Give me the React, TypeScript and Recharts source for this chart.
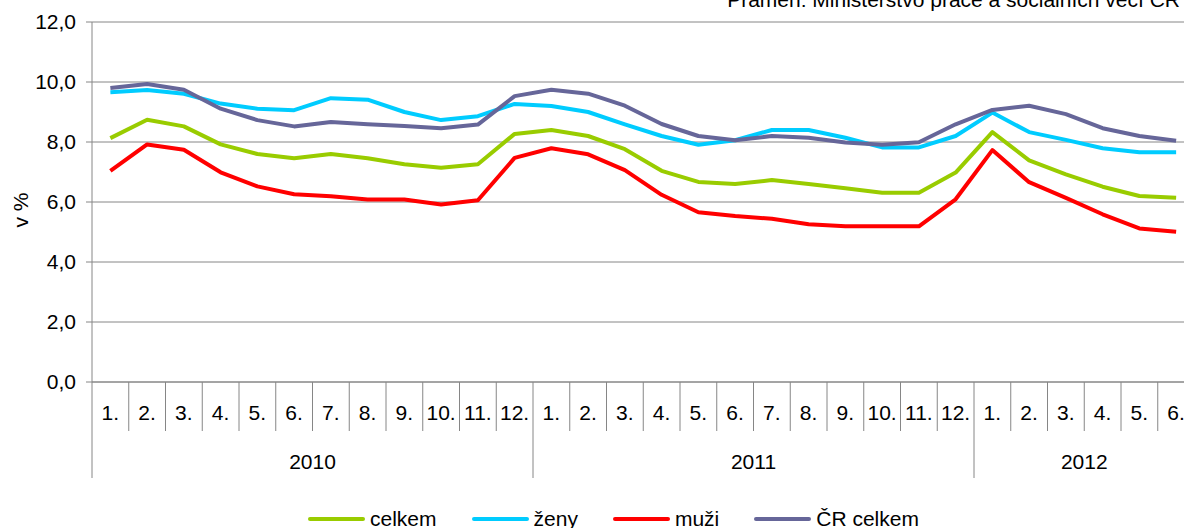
import React from 'react';
import { LineChart, Line, XAxis, YAxis, CartesianGrid } from 'recharts';

// ---- data ----
const monthLabels = [
  '1.', '2.', '3.', '4.', '5.', '6.', '7.', '8.', '9.', '10.', '11.', '12.',
  '1.', '2.', '3.', '4.', '5.', '6.', '7.', '8.', '9.', '10.', '11.', '12.',
  '1.', '2.', '3.', '4.', '5.', '6.',
];
const yearLabels = ['2010', '2011', '2012'];
const yearCounts = [12, 12, 6];

const celkem = [8.13, 8.74, 8.52, 7.92, 7.6, 7.46, 7.6, 7.46, 7.26, 7.14, 7.26, 8.27,
  8.4, 8.2, 7.76, 7.04, 6.67, 6.6, 6.73, 6.6, 6.46, 6.31, 6.31, 6.98,
  8.33, 7.39, 6.92, 6.51, 6.2, 6.14];
const zeny = [9.66, 9.73, 9.61, 9.28, 9.11, 9.06, 9.46, 9.41, 9.0, 8.73, 8.86, 9.27,
  9.2, 9.0, 8.59, 8.2, 7.91, 8.06, 8.4, 8.4, 8.14, 7.82, 7.82, 8.2,
  8.98, 8.33, 8.07, 7.79, 7.66, 7.66];
const muzi = [7.04, 7.92, 7.74, 6.99, 6.52, 6.26, 6.19, 6.08, 6.08, 5.92, 6.06, 7.47,
  7.79, 7.59, 7.06, 6.24, 5.66, 5.53, 5.44, 5.26, 5.19, 5.19, 5.19, 6.09,
  7.73, 6.66, 6.14, 5.59, 5.12, 5.01];
const crCelkem = [9.8, 9.93, 9.74, 9.11, 8.73, 8.52, 8.67, 8.59, 8.53, 8.46, 8.58, 9.53,
  9.74, 9.61, 9.21, 8.6, 8.2, 8.06, 8.2, 8.14, 7.98, 7.91, 7.99, 8.59,
  9.07, 9.21, 8.93, 8.46, 8.2, 8.04];

const yTicks = [0, 2, 4, 6, 8, 10, 12];
const yAxisTitle = 'v %';
const sourceText = 'Pramen: Ministerstvo práce a sociálních věcí ČR';

const seriesDefs = [
  { key: 'celkem', name: 'celkem', color: '#99CC00', values: celkem },
  { key: 'zeny', name: 'ženy', color: '#00CCFF', values: zeny },
  { key: 'muzi', name: 'muži', color: '#FF0000', values: muzi },
  { key: 'cr', name: 'ČR celkem', color: '#666699', values: crCelkem },
];

const data = monthLabels.map((m, i) => {
  const row: any = { key: String(i), month: m };
  seriesDefs.forEach((s) => { row[s.key] = s.values[i]; });
  return row;
});

const yearStarts: number[] = [];
yearCounts.reduce((acc, c) => { yearStarts.push(acc); return acc + c; }, 0);

// ---- layout ----
const FONT = '"Liberation Sans", Arial, Helvetica, sans-serif';
const GRID = '#868686';
const CHART_W = 1210;
const CHART_H = 560;
const MARGIN = { top: 22, right: 15.5, left: 0, bottom: 78 };
const Y_AXIS_W = 92;
const X_AXIS_H = 100;
const PLOT_W = CHART_W - MARGIN.left - MARGIN.right - Y_AXIS_W;
const PLOT_BOTTOM = CHART_H - MARGIN.bottom - X_AXIS_H;
const BAND = PLOT_W / data.length;
const FS = 21;

function MonthTick(props: any) {
  const { x, index } = props;
  const left = x - BAND / 2;
  const yi = yearStarts.indexOf(index);
  const isStart = yi >= 0;
  const isLast = index === data.length - 1;
  return (
    <g>
      <line x1={left} x2={left} y1={PLOT_BOTTOM} y2={PLOT_BOTTOM + (isStart ? 96 : 49)} stroke={GRID} strokeWidth={1} />
      {isLast && (
        <line x1={left + BAND} x2={left + BAND} y1={PLOT_BOTTOM} y2={PLOT_BOTTOM + 96} stroke={GRID} strokeWidth={1} />
      )}
      <text x={x} y={PLOT_BOTTOM + 38} textAnchor="middle" fill="#000" fontSize={FS} fontFamily={FONT}>
        {monthLabels[index]}
      </text>
      {isStart && (
        <text x={left + (yearCounts[yi] * BAND) / 2} y={PLOT_BOTTOM + 87} textAnchor="middle" fill="#000" fontSize={FS} fontFamily={FONT}>
          {yearLabels[yi]}
        </text>
      )}
    </g>
  );
}

export default function App() {
  return (
    <div style={{ position: 'fixed', left: 0, top: 0, width: 1184, height: 528, overflow: 'hidden', background: '#fff', fontFamily: FONT }}>
      <div style={{ position: 'absolute', left: 0, top: 0 }}>
        <LineChart width={CHART_W} height={CHART_H} data={data} margin={MARGIN}>
          <CartesianGrid vertical={false} stroke={GRID} strokeWidth={1} />
          <XAxis
            dataKey="key"
            interval={0}
            height={X_AXIS_H}
            padding={{ left: BAND / 2, right: BAND / 2 }}
            tickLine={false}
            axisLine={{ stroke: GRID, strokeWidth: 1 }}
            tick={(p: any) => <MonthTick {...p} />}
          />
          <YAxis
            width={Y_AXIS_W}
            domain={[0, 12]}
            ticks={yTicks}
            interval={0}
            tickFormatter={(v: number) => v.toFixed(1).replace('.', ',')}
            tickSize={6}
            tickMargin={10}
            tickLine={{ stroke: GRID, strokeWidth: 1 }}
            axisLine={{ stroke: GRID, strokeWidth: 1 }}
            tick={{ fill: '#000', fontSize: FS, fontFamily: FONT }}
          />
          {seriesDefs.map((s) => (
            <Line
              key={s.key}
              dataKey={s.key}
              name={s.name}
              stroke={s.color}
              strokeWidth={4}
              dot={false}
              activeDot={false}
              type="linear"
              strokeLinejoin="round"
              isAnimationActive={false}
            />
          ))}
        </LineChart>
      </div>
      <svg width={1184} height={528} style={{ position: 'absolute', left: 0, top: 0, pointerEvents: 'none' }}>
        <text transform="translate(28,210) rotate(-90)" textAnchor="middle" fill="#000" fontSize={FS} fontFamily={FONT}>
          {yAxisTitle}
        </text>
        <text x={1180} y={7} textAnchor="end" fill="#000" fontSize={FS} fontFamily={FONT}>
          {sourceText}
        </text>
      </svg>
      <div style={{ position: 'absolute', left: 308, top: 506.75, display: 'flex', alignItems: 'center', gap: 35, whiteSpace: 'nowrap' }}>
        {seriesDefs.map((s) => (
          <div key={s.key} style={{ display: 'flex', alignItems: 'center' }}>
            <div style={{ width: 57, height: 4, background: s.color, borderRadius: 2 }} />
            <span style={{ marginLeft: 5, fontSize: FS, lineHeight: '24px', color: '#000', fontFamily: FONT }}>{s.name}</span>
          </div>
        ))}
      </div>
    </div>
  );
}
